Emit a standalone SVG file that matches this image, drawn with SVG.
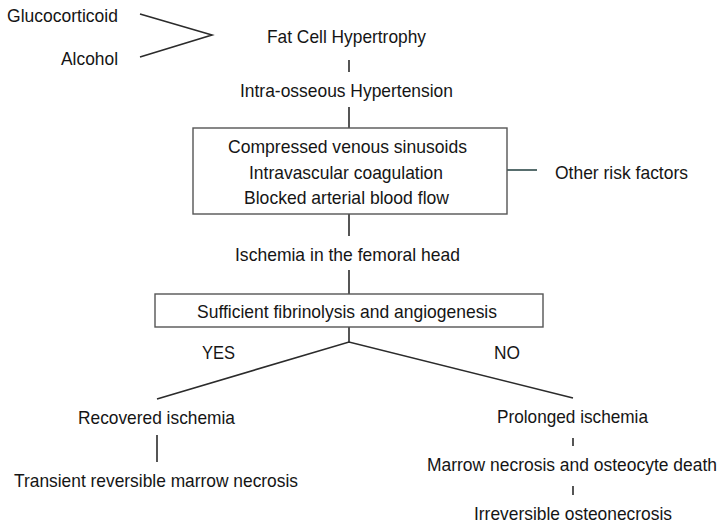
<svg xmlns="http://www.w3.org/2000/svg" width="726" height="529" viewBox="0 0 726 529">
<style>
text{font-family:"Liberation Sans",Arial,sans-serif;font-size:19px;fill:#151515}
.m{text-anchor:middle}
.e{text-anchor:end}
.ln{stroke:#2b2b2b;stroke-width:1.6;fill:none}
.bx{stroke:#555;stroke-width:1.4;fill:#fff}
</style>
<rect width="726" height="529" fill="#fff"/>
<g id="connectors">
<polyline class="ln" points="140,14 212,35 140,57"/>
<line class="ln" x1="349" y1="60" x2="349" y2="72"/>
<line class="ln" x1="349" y1="107" x2="349" y2="128"/>
<line class="ln" x1="349" y1="214" x2="349" y2="236"/>
<line class="ln" x1="349" y1="270" x2="349" y2="294"/>
<line class="ln" x1="507" y1="170" x2="537" y2="170" style="stroke:#2f4a4a"/>
<line class="ln" x1="349" y1="327" x2="349" y2="342"/>
<polyline class="ln" points="157,399 349,342 573,398"/>
<line class="ln" x1="157" y1="435" x2="157" y2="462"/>
<line class="ln" x1="573" y1="438" x2="573" y2="446"/>
<line class="ln" x1="573" y1="486" x2="573" y2="495"/>
</g>
<g id="glucocorticoid"><text class="e" x="118" y="22" textLength="111" lengthAdjust="spacingAndGlyphs">Glucocorticoid</text></g>
<g id="alcohol"><text class="e" x="118" y="65" textLength="57" lengthAdjust="spacingAndGlyphs">Alcohol</text></g>
<g id="fat-cell"><text class="m" x="346.5" y="43" textLength="159" lengthAdjust="spacingAndGlyphs">Fat Cell Hypertrophy</text></g>
<g id="intra-osseous"><text class="m" x="346.5" y="97" textLength="213" lengthAdjust="spacingAndGlyphs">Intra-osseous Hypertension</text></g>
<g id="mechanisms">
<rect class="bx" x="193" y="128" width="314" height="86"/>
<text class="m" x="347.5" y="153" textLength="239" lengthAdjust="spacingAndGlyphs">Compressed venous sinusoids</text>
<text class="m" x="346" y="179" textLength="194" lengthAdjust="spacingAndGlyphs">Intravascular coagulation</text>
<text class="m" x="346.5" y="204" textLength="205" lengthAdjust="spacingAndGlyphs">Blocked arterial blood flow</text>
</g>
<g id="other-risk"><text x="555" y="179" textLength="133" lengthAdjust="spacingAndGlyphs">Other risk factors</text></g>
<g id="ischemia"><text class="m" x="347.5" y="261" textLength="225" lengthAdjust="spacingAndGlyphs">Ischemia in the femoral head</text></g>
<g id="fibrinolysis">
<rect class="bx" x="155" y="294" width="388" height="33"/>
<text class="m" x="347" y="318" textLength="300" lengthAdjust="spacingAndGlyphs">Sufficient fibrinolysis and angiogenesis</text>
</g>
<g id="yes"><text x="202" y="359" textLength="33" lengthAdjust="spacingAndGlyphs">YES</text></g>
<g id="no"><text x="494" y="359" textLength="26" lengthAdjust="spacingAndGlyphs">NO</text></g>
<g id="recovered"><text class="m" x="156.5" y="424" textLength="157" lengthAdjust="spacingAndGlyphs">Recovered ischemia</text></g>
<g id="transient"><text class="m" x="156" y="487" textLength="284" lengthAdjust="spacingAndGlyphs">Transient reversible marrow necrosis</text></g>
<g id="prolonged"><text class="m" x="572.5" y="423" textLength="151" lengthAdjust="spacingAndGlyphs">Prolonged ischemia</text></g>
<g id="marrow"><text class="m" x="572" y="471" style="font-size:17.5px" textLength="290" lengthAdjust="spacingAndGlyphs">Marrow necrosis and osteocyte death</text></g>
<g id="irreversible"><text class="m" x="573" y="520" textLength="198" lengthAdjust="spacingAndGlyphs">Irreversible osteonecrosis</text></g>
</svg>
